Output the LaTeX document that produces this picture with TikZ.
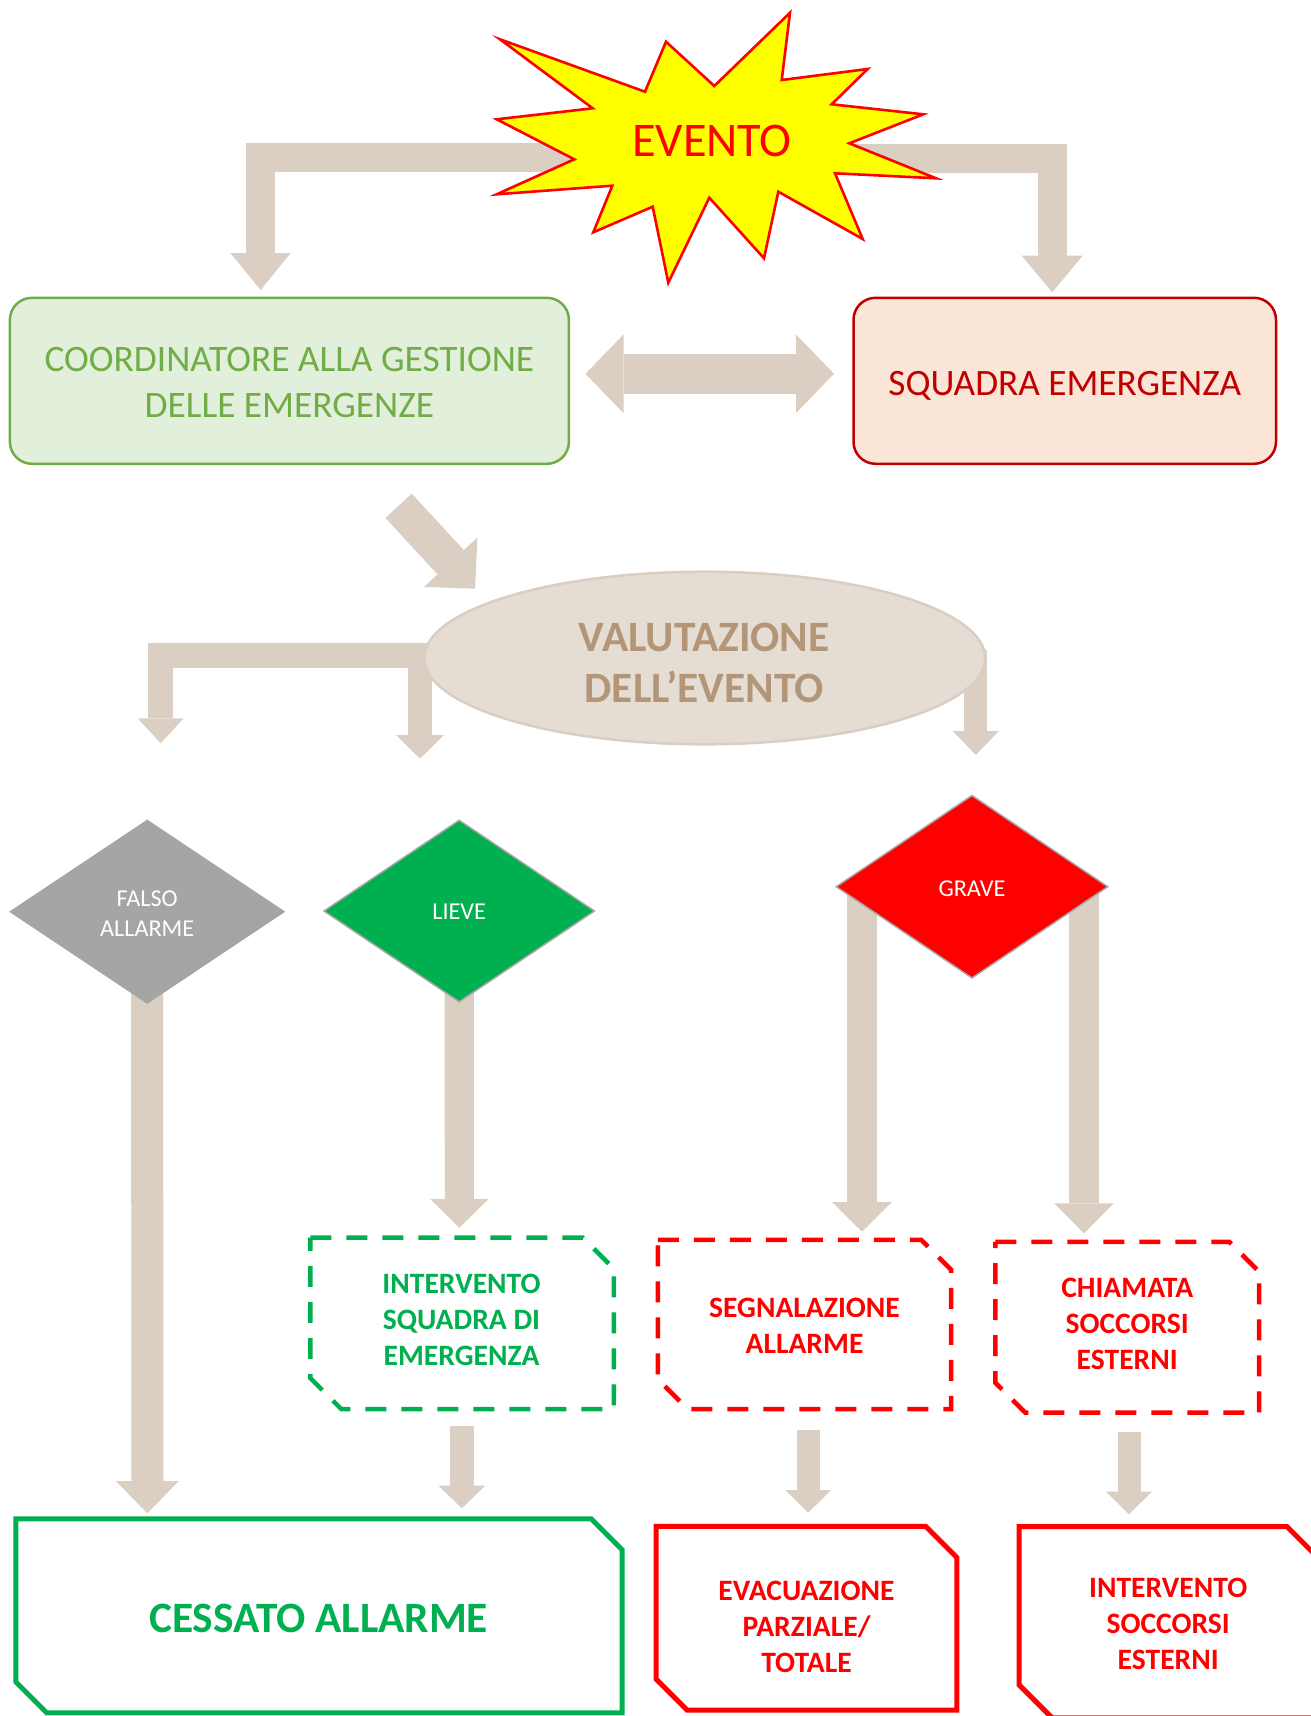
\documentclass[tikz,border=0pt]{standalone}
\usepackage{fontspec}
\setmainfont{Carlito}
\usetikzlibrary{arrows.meta,shapes.geometric}
\pgfdeclarelayer{back}
\pgfdeclarelayer{bg}
\pgfsetlayers{back,bg,main}
\definecolor{arrowc}{HTML}{DBCEC3}
\definecolor{ellfill}{HTML}{E5DDD4}
\definecolor{elldraw}{HTML}{DACDC1}
\definecolor{elltext}{HTML}{B39578}
\definecolor{cgreenfill}{HTML}{E2EFDA}
\definecolor{cgreen}{HTML}{70AD47}
\definecolor{sqfill}{HTML}{FBE5D6}
\definecolor{sqred}{HTML}{C00000}
\definecolor{bgreen}{HTML}{00B050}
\definecolor{bred}{HTML}{FF0000}
\definecolor{dgray}{HTML}{A5A5A5}
\definecolor{starfill}{HTML}{FFFF00}
\newcommand\fsz[2]{\fontsize{#1}{#2}\selectfont}
\newcommand\snipbox[3]{\draw[#3] (#1.north west) -- ([xshift=-#2]#1.north east) -- ([yshift=-#2]#1.north east) -- (#1.south east) -- ([xshift=#2]#1.south west) -- ([yshift=#2]#1.south west) -- cycle;}
\tikzset{
  blockarrow/.style n args={3}{draw=arrowc, line width=#1, line cap=butt, line join=miter, -{Triangle[width=#2,length=#3,line width=0pt]}},
  dblarrow/.style n args={3}{draw=arrowc, line width=#1, line cap=butt, {Triangle[width=#2,length=#3,line width=0pt]}-{Triangle[width=#2,length=#3,line width=0pt]}},
  roundbox/.style={rectangle, rounded corners=22bp, line width=2.5bp, inner sep=0pt},
  diam/.style={diamond, draw=dgray, line width=1.5bp, inner sep=0pt},
  diamtext/.style={inner sep=0pt, align=center, text=white, font=\fsz{24.3}{30}},
  boxnode/.style={rectangle, inner sep=0pt},
  boxtext/.style={inner sep=0pt, align=center, font=\bfseries\fsz{29.7}{36}},
  dashsnip/.style={line width=4.5bp, dash pattern=on 21bp off 15bp, line join=miter},
  solidsnip/.style={line width=5bp, line join=miter},
  starshape/.style={fill=starfill, draw=bred, line width=2.6bp, line join=miter}
}
\begin{document}
\begin{tikzpicture}[x=1bp,y=-1bp]
\begin{pgfonlayer}{back}
\fill[white] (0,0) rectangle (1311,1716);
\end{pgfonlayer}
\useasboundingbox (0,0) rectangle (1311,1716);

% star
\draw[starshape] (500,39.3) -- (645,91.7) -- (666,41.7) -- (714.3,86) -- (790,12.7) -- (781.7,80) -- (867.7,69) -- (831.7,104.3) -- (923.3,114.3) -- (849.3,143.3) -- (936,178.3) -- (835,173.3) -- (862.7,239) -- (778.3,191.7) -- (764,258.3) -- (709.3,197.7) -- (668.3,282.7) -- (652.7,206.7) -- (593.3,232.3) -- (612.3,185.7) -- (496.7,194.3) -- (574.3,159.3) -- (496.7,119.3) -- (592.7,108.3) -- cycle;
\node[text=bred, font=\fsz{48.5}{52}, inner sep=0pt] (evento) at (712,141) {EVENTO};

% top boxes
\node[roundbox, draw=cgreen, fill=cgreenfill, minimum width=559bp, minimum height=166bp] (coord) at (289.4,380.8) {};
\node[text=cgreen, font=\fsz{37.5}{46}, align=center, inner sep=0pt] (coordT) at (289.4,382.5) {COORDINATORE ALLA GESTIONE\\DELLE EMERGENZE};
\node[roundbox, draw=sqred, fill=sqfill, minimum width=422.5bp, minimum height=166bp] (squadra) at (1064.75,380.8) {};
\node[text=sqred, font=\fsz{37.4}{44}, inner sep=0pt] (squadraT) at (1064.75,385.5) {SQUADRA EMERGENZA};

% ellipse
\node[ellipse, draw=elldraw, fill=ellfill, line width=2.5bp, minimum width=561bp, minimum height=172.6bp, inner sep=0pt] (valut) at (704.7,658) {};
\node[text=elltext, font=\bfseries\fsz{43.5}{51.5}, align=center, inner sep=0pt] (valutT) at (704.2,662.9) {VALUTAZIONE\\DELL’EVENTO};

% diamonds
\node[diam, fill=dgray, minimum width=274bp, minimum height=183bp] (falso) at (147.2,911.7) {};
\node[diamtext] (falsoT) at (147.2,913.9) {FALSO\\ALLARME};
\node[diam, fill=bgreen, minimum width=271bp, minimum height=182bp] (lieve) at (459.2,911) {};
\node[diamtext] (lieveT) at (459.2,912.2) {LIEVE};
\node[diam, fill=bred, minimum width=272bp, minimum height=183bp] (grave) at (972,886.7) {};
\node[diamtext] (graveT) at (972,889) {GRAVE};

% dashed snip boxes
\node[boxnode, minimum width=303bp, minimum height=171bp] (intsq) at (462.1,1323.4) {};
\snipbox{intsq}{31bp}{dashsnip, draw=bgreen}
\node[boxtext, text=bgreen] (intsqT) at (461.5,1320) {INTERVENTO\\SQUADRA DI\\EMERGENZA};
\node[boxnode, minimum width=293bp, minimum height=169bp] (segn) at (804.5,1324.5) {};
\snipbox{segn}{30bp}{dashsnip, draw=bred}
\node[boxtext, text=bred] (segnT) at (804.5,1326.1) {SEGNALAZIONE\\ALLARME};
\node[boxnode, minimum width=263.5bp, minimum height=170.5bp] (chiam) at (1127.2,1327.2) {};
\snipbox{chiam}{30bp}{dashsnip, draw=bred}
\node[boxtext, text=bred] (chiamT) at (1127.2,1323.9) {CHIAMATA\\SOCCORSI\\ESTERNI};

% solid snip boxes
\node[boxnode, minimum width=606bp, minimum height=193.7bp] (cessato) at (319,1615.9) {};
\snipbox{cessato}{31bp}{solidsnip, draw=bgreen}
\node[boxtext, text=bgreen, font=\bfseries\fsz{43.5}{50}] (cessatoT) at (318.6,1618.1) {CESSATO ALLARME};
\node[boxnode, minimum width=300.3bp, minimum height=183.3bp] (evac) at (806.5,1618.3) {};
\snipbox{evac}{31bp}{solidsnip, draw=bred}
\node[boxtext, text=bred] (evacT) at (806.5,1626.8) {EVACUAZIONE\\PARZIALE/\\TOTALE};
\node[boxnode, minimum width=300.3bp, minimum height=191bp] (intsoc) at (1169.5,1622.2) {};
\snipbox{intsoc}{33bp}{solidsnip, draw=bred}
\node[boxtext, text=bred] (intsocT) at (1168.2,1624) {INTERVENTO\\SOCCORSI\\ESTERNI};

% connector end points
\coordinate (evL) at (600,157.2);
\coordinate (tCoord) at (260.6,290);
\coordinate (evR) at (820,158.8);
\coordinate (tSquadra) at (1052.2,292.3);
\coordinate (dblL) at (585.5,373.8);
\coordinate (dblR) at (834,373.8);
\coordinate (diagS) at (398.6,505.8);
\coordinate (tValut) at (475.1,588.7);
\coordinate (vBar) at (440,655.2);
\coordinate (tFalsoTop) at (160.7,743.3);
\coordinate (vMidS) at (420,642.7);
\coordinate (tLieveTop) at (420,758.7);
\coordinate (vRightS) at (975.8,650);
\coordinate (tGraveTop) at (975.8,755);
\coordinate (tFalso) at (147.3,1513.3);
\coordinate (tLieve) at (459.4,1227.7);
\coordinate (gL) at (862,886.7);
\coordinate (tGL) at (862,1231.7);
\coordinate (gR) at (1084,886.7);
\coordinate (tGR) at (1084,1233.3);
\coordinate (sIntsq) at (461.9,1426);
\coordinate (tIntsq) at (461.9,1508.3);
\coordinate (sSegn) at (808.2,1430);
\coordinate (tSegn) at (808.2,1512.7);
\coordinate (sChiam) at (1129,1431.7);
\coordinate (tChiam) at (1129,1514.3);

\begin{pgfonlayer}{bg}
\draw[blockarrow={29bp}{60.3bp}{37bp}] (evL) -| (tCoord);
\draw[blockarrow={29.3bp}{61bp}{36.6bp}] (evR) -| (tSquadra);
\draw[dblarrow={40.5bp}{78.7bp}{38bp}] (dblL) -- (dblR);
\draw[blockarrow={35.8bp}{72.8bp}{36bp}] (diagS) -- (tValut);
\draw[blockarrow={25bp}{46bp}{25bp}] (vBar) -| (tFalsoTop);
\draw[blockarrow={24bp}{48bp}{23.7bp}] (vMidS) -- (tLieveTop);
\draw[blockarrow={23bp}{46bp}{24bp}] (vRightS) -- (tGraveTop);
\draw[blockarrow={32bp}{63bp}{32.3bp}] (falso.center) -- (tFalso);
\draw[blockarrow={29.2bp}{58.4bp}{28.7bp}] (lieve.center) -- (tLieve);
\draw[blockarrow={30bp}{60bp}{29.7bp}] (gL) -- (tGL);
\draw[blockarrow={29.3bp}{59.7bp}{30bp}] (gR) -- (tGR);
\draw[blockarrow={23.2bp}{46.7bp}{22.6bp}] (sIntsq) -- (tIntsq);
\draw[blockarrow={23bp}{45.8bp}{22.7bp}] (sSegn) -- (tSegn);
\draw[blockarrow={23bp}{45.8bp}{22.6bp}] (sChiam) -- (tChiam);
\end{pgfonlayer}
\end{tikzpicture}
\end{document}
